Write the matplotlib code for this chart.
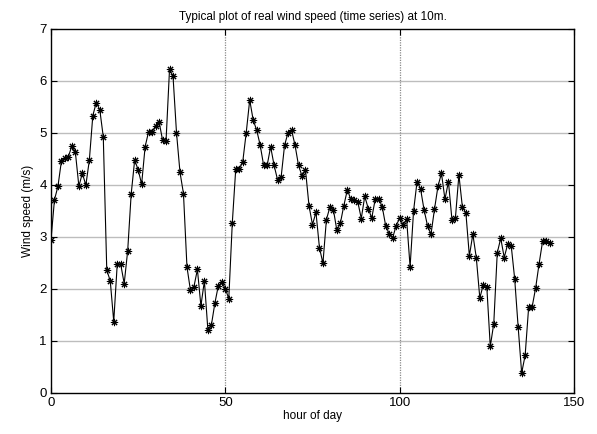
import matplotlib
matplotlib.use("Agg")
import matplotlib.pyplot as plt
import numpy as np

plt.rcParams['font.family'] = ['Liberation Sans', 'DejaVu Sans']

# Hourly wind speed readings at 10 m height (m/s)
wind_speed = [
    2.94, 3.71, 3.97, 4.46, 4.52, 4.54, 4.75, 4.62, 3.97, 4.22,
    3.99, 4.47, 5.33, 5.58, 5.44, 4.92, 2.36, 2.15, 1.37, 2.47,
    2.47, 2.10, 2.73, 3.82, 4.47, 4.29, 4.01, 4.73, 5.02, 5.02,
    5.13, 5.21, 4.86, 4.84, 6.22, 6.09, 5.00, 4.24, 3.83, 2.42,
    1.97, 2.04, 2.37, 1.67, 2.15, 1.21, 1.30, 1.72, 2.06, 2.13,
    2.00, 1.81, 3.26, 4.31, 4.31, 4.44, 5.00, 5.63, 5.24, 5.05,
    4.76, 4.37, 4.37, 4.73, 4.37, 4.09, 4.14, 4.76, 5.00, 5.05,
    4.76, 4.37, 4.17, 4.28, 3.60, 3.23, 3.47, 2.79, 2.49, 3.33,
    3.57, 3.52, 3.12, 3.26, 3.60, 3.90, 3.72, 3.71, 3.67, 3.35,
    3.78, 3.54, 3.36, 3.72, 3.73, 3.58, 3.21, 3.06, 2.98, 3.21,
    3.36, 3.23, 3.34, 2.42, 3.50, 4.06, 3.92, 3.52, 3.21, 3.05,
    3.53, 3.97, 4.22, 3.72, 4.06, 3.33, 3.36, 4.19, 3.57, 3.46,
    2.63, 3.05, 2.59, 1.82, 2.08, 2.04, 0.89, 1.33, 2.69, 2.97,
    2.60, 2.86, 2.83, 2.19, 1.26, 0.38, 0.72, 1.64, 1.65, 2.01,
    2.48, 2.91, 2.91, 2.87,
]
hours = np.arange(len(wind_speed))

x_ticks = [0, 50, 100, 150]
y_ticks = [0, 1, 2, 3, 4, 5, 6, 7]

fig = plt.figure(figsize=(5.97, 4.34), dpi=100)
ax = fig.add_axes([0.0854, 0.095, 0.876, 0.839])

# Grid: light horizontal rules, dotted vertical rules
for y in y_ticks[1:-1]:
    ax.axhline(y, color='#bdbdbd', lw=1.0, zorder=0)
for x in x_ticks[1:-1]:
    ax.axvline(x, color='#8a8a8a', lw=0.9, ls=(0, (1, 1)), zorder=0)

# Line with eight-armed asterisk markers
ax.plot(hours, wind_speed, color='black', lw=0.8, marker=(8, 2, 0),
        markersize=5.2, markeredgewidth=0.75, zorder=3)

ax.set_xlim(0, 150)
ax.set_ylim(0, 7)
ax.set_xticks(x_ticks)
ax.set_yticks(y_ticks)
ax.tick_params(direction='in', length=4, width=0.8, labelsize=9.5,
               top=True, right=True, pad=3)
for s in ax.spines.values():
    s.set_linewidth(1.0)

ax.set_title('Typical plot of real wind speed (time series) at 10m.',
             fontsize=8.5, pad=6)
ax.set_xlabel('hour of day', fontsize=8.5, labelpad=1)
ax.set_ylabel('Wind speed (m/s)', fontsize=8.5, labelpad=4)

fig.savefig('out.png', dpi=100)
